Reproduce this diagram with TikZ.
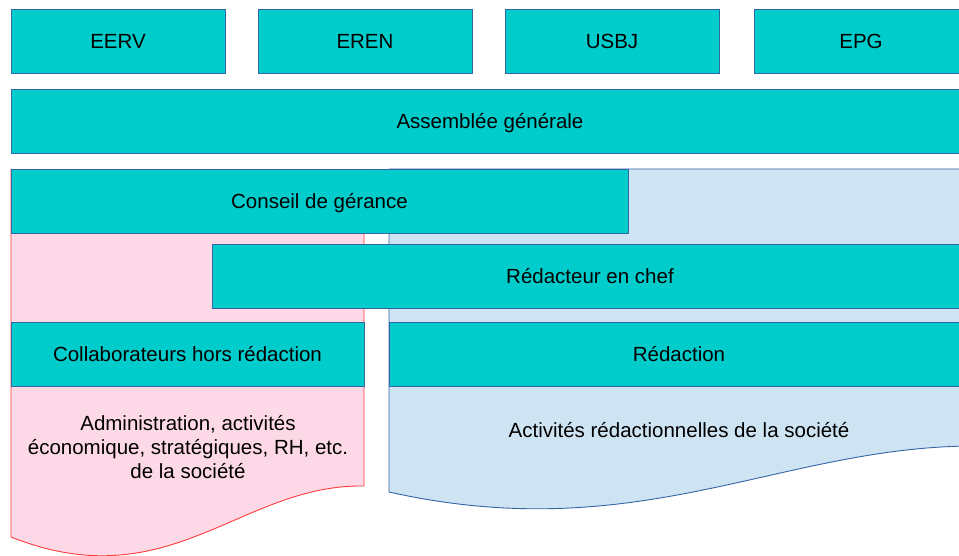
\documentclass[tikz,border=0pt]{standalone}
\usepackage{fontspec}
\setmainfont{Liberation Sans}
\usetikzlibrary{positioning}

\definecolor{turq}{RGB}{0,204,204}
\definecolor{edgeblue}{RGB}{52,101,164}
\definecolor{rosefill}{RGB}{253,216,230}
\definecolor{roseline}{RGB}{255,60,60}
\definecolor{skyfill}{RGB}{207,228,243}

\begin{document}
\begin{tikzpicture}[x=1pt, y=-1pt,
      bloc/.style={draw=edgeblue, fill=turq, line width=0.9pt, anchor=north west,
        minimum height=64pt, inner sep=0pt, outer sep=0pt,
        text height=14.7pt, text depth=0pt,
        font=\fontsize{20.5}{24}\selectfont},
      zonetext/.style={font=\fontsize{20.5}{24}\selectfont, align=center, inner sep=0pt}
    ]
    \clip (0,0) rectangle (959,556);

    % --- background zones (wavy bottom) ---
    \fill[rosefill] (11,169) -- (364,169) -- (364,486)
      .. controls (240,484) and (170,600) .. (11,537) -- cycle;
    \draw[roseline, line width=0.9pt] (11,169) -- (11,537)
      .. controls (170,600) and (240,484) .. (364,486) -- (364,169);
    \filldraw[fill=skyfill, draw=edgeblue, line width=0.9pt] (389,169) -- (975,169) -- (975,446)
      .. controls (780,446) and (640,548) .. (389,492) -- cycle;

    % --- members ---
    \foreach \nom/\lbl/\x in {eerv/EERV/11, eren/EREN/258, usbj/USBJ/505, epg/EPG/754} {
      \node[bloc, minimum width=214pt] (\nom) at (\x,9) {\lbl};
    }

    % --- governance ---
    \node[bloc, minimum width=958pt] (ag) at (11,89) {Assemblée générale};
    \node[bloc, minimum width=617pt] (cg) at (11,169) {Conseil de gérance};
    \node[bloc, minimum width=756pt] (rc) at (212,244) {Rédacteur en chef};
    \node[bloc, minimum width=353pt] (collab) at (11,322) {Collaborateurs hors rédaction};
    \node[bloc, minimum width=580pt] (red) at (389,322) {Rédaction};

    % --- activities ---
    \node[zonetext] (admin) at (188,447)
      {Administration, activités\\économique, stratégiques, RH, etc.\\de la société};
    \node[zonetext] (activ) at (679,430) {Activités rédactionnelles de la société};

  \end{tikzpicture}
\end{document}
